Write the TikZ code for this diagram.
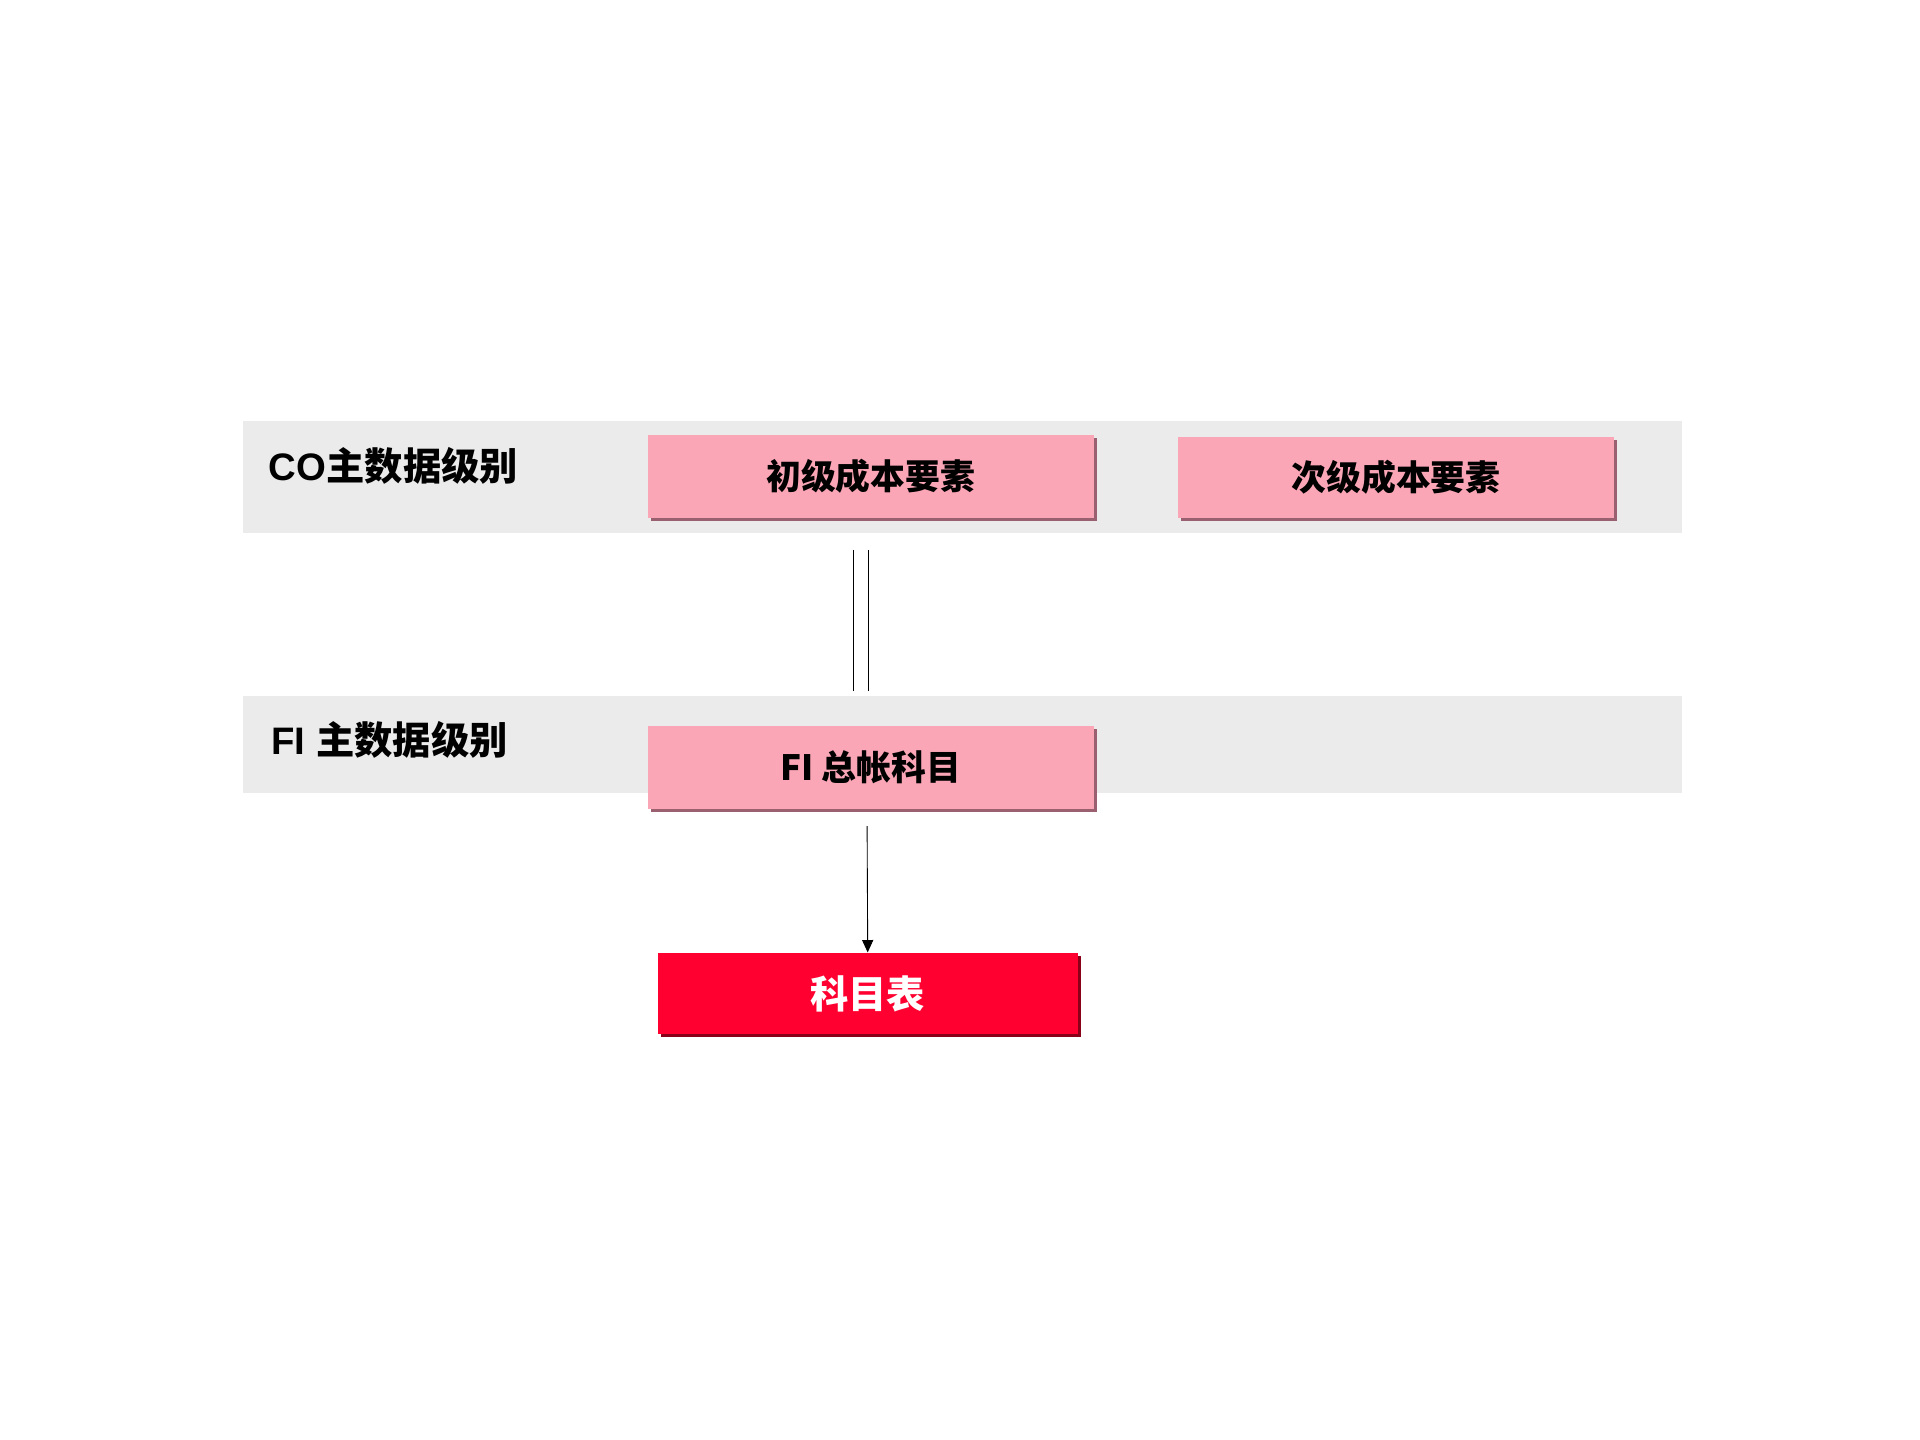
\documentclass[tikz,border=0pt]{standalone}
\usepackage{fontspec}
\setmainfont{Liberation Sans}
\newfontfamily\cjk{Noto Sans CJK SC Bold}
\usetikzlibrary{arrows.meta,shadows}
\definecolor{band}{HTML}{EBEBEB}
\definecolor{pinkbox}{HTML}{FBA6B6}
\definecolor{pinkshadow}{HTML}{9A6070}
\definecolor{redbox}{HTML}{FF0030}
\definecolor{redshadow}{HTML}{8A0018}
\tikzset{
  bandbox/.style={fill=band,draw=none},
  pbox/.style={fill=pinkbox,draw=none,inner sep=0pt,font=\fontsize{40}{48}\selectfont\bfseries\cjk,
     drop shadow={shadow xshift=0.12cm,shadow yshift=-0.12cm,fill=pinkshadow,opacity=1}},
  rbox/.style={fill=redbox,draw=none,inner sep=0pt,text=white,font=\fontsize{44}{52}\selectfont\bfseries\cjk,
     drop shadow={shadow xshift=0.12cm,shadow yshift=-0.12cm,fill=redshadow,opacity=1}},
  lbl/.style={anchor=west,inner sep=0pt,font=\fontsize{44}{52}\selectfont\bfseries},
}
\begin{document}
\begin{tikzpicture}[x=0.05cm,y=-0.05cm]
\useasboundingbox (0,0) rectangle (1550,1162);
\fill[white] (0,0) rectangle (1550,1162);
\fill[bandbox] (196,340) rectangle (1358,430);
\fill[bandbox] (196,562) rectangle (1358,640);
\node[pbox,minimum width=18cm,minimum height=3.35cm] (p1) at (703,384.5) {{\cjk 初级成本要素}};
\node[pbox,minimum width=17.6cm,minimum height=3.25cm] (p2) at (1127,385.5) {{\cjk 次级成本要素}};
\node[pbox,minimum width=18cm,minimum height=3.35cm] (fi) at (703,619.5) {FI {\cjk 总帐科目}};
\node[rbox,minimum width=16.95cm,minimum height=3.3cm] (kb) at (700.5,802) {科目表};
\node[lbl] (co) at (217,376) {CO{\cjk 主数据级别}};
\node[lbl] (fil) at (219,597) {FI {\cjk 主数据级别}};
\coordinate (d1a) at (689,444); \coordinate (d1b) at (689,558);
\coordinate (d2a) at (701,444); \coordinate (d2b) at (701,558);
\draw[line width=1.2pt] (d1a) -- (d1b);
\draw[line width=1.2pt] (d2a) -- (d2b);
\coordinate (a0) at (700,667);
\draw[line width=1pt,-{Triangle[length=0.5cm,width=0.45cm]}] (a0) -- (kb.north);
\end{tikzpicture}
\end{document}
